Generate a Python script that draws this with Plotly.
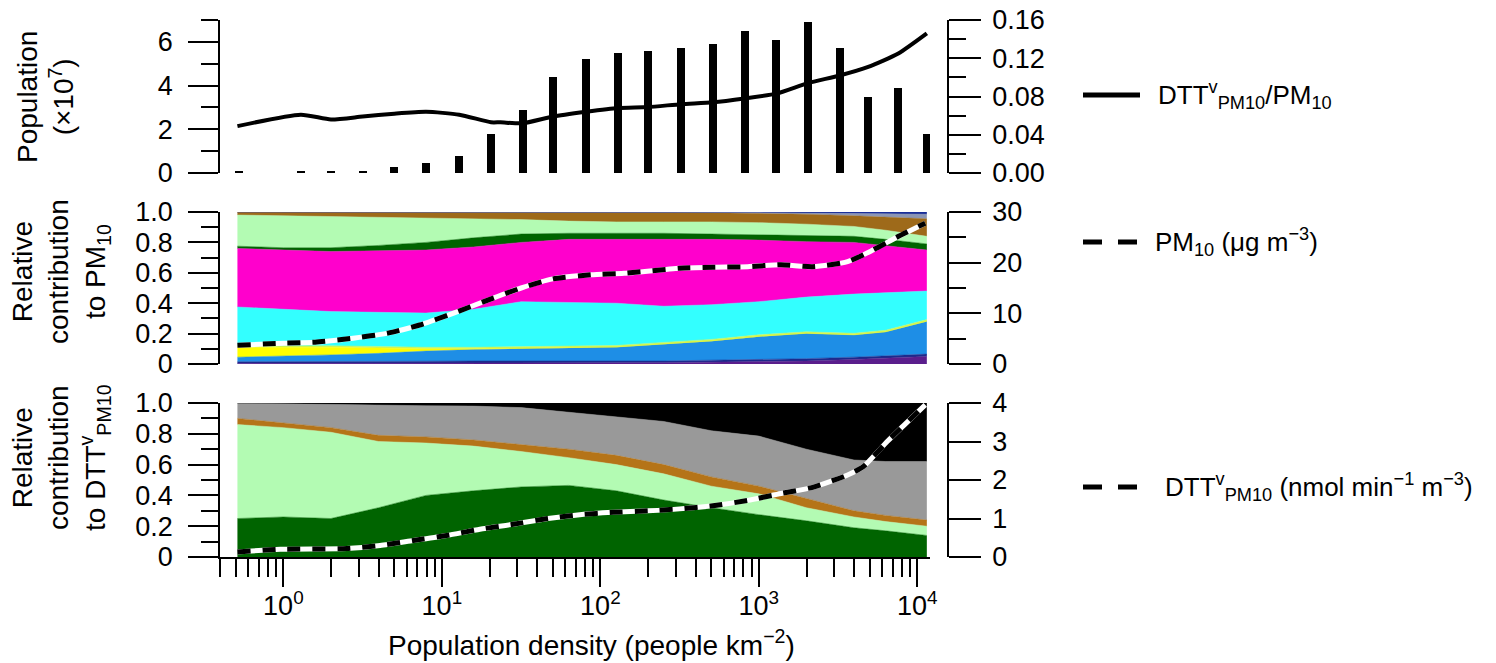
import numpy as np
import plotly.graph_objects as go

W, H = 1496, 663          # browser window
BODY = 8                  # default page margin before the plot div
FW, FH = W - BODY, H - BODY

# ---------------- data ----------------
# Top panel: population per density bin (x 10^7) and DTT/PM10 ratio
bar_logdens = [-0.28, 0.11, 0.30, 0.50, 0.70, 0.90, 1.11, 1.31, 1.51, 1.70, 1.91,
               2.11, 2.30, 2.51, 2.71, 2.91, 3.11, 3.31, 3.51, 3.69, 3.88, 4.06]
population_1e7 = [0.08, 0.08, 0.08, 0.08, 0.27, 0.45, 0.76, 1.8, 2.9, 4.4, 5.2,
                  5.5, 5.6, 5.7, 5.9, 6.5, 6.1, 6.9, 5.7, 3.5, 3.9, 1.8]

ratio_logdens = [-0.29, 0.11, 0.30, 0.50, 0.70, 0.90, 1.11, 1.31, 1.37, 1.51, 1.70, 1.91,
                 2.11, 2.30, 2.51, 2.71, 2.91, 3.11, 3.31, 3.51, 3.69, 3.88, 4.06]
dtt_per_pm10 = [0.049, 0.061, 0.056, 0.059, 0.062, 0.064, 0.061, 0.053, 0.053, 0.052, 0.059, 0.064,
                0.068, 0.069, 0.072, 0.074, 0.078, 0.083, 0.094, 0.102, 0.111, 0.125, 0.146]

# Middle panel: relative contributions to PM10 (stacked, bottom to top) and PM10 concentration
area_logdens = [-0.29, 0.0, 0.3, 0.6, 0.9, 1.2, 1.5, 1.8, 2.1, 2.4, 2.7, 3.0, 3.3, 3.6, 3.8, 4.06]
pm_purple = [0.004, 0.004, 0.004, 0.004, 0.005, 0.006, 0.006, 0.007, 0.008, 0.009, 0.012, 0.015, 0.02, 0.03, 0.04, 0.05]
pm_navy = [0.011, 0.011, 0.011, 0.011, 0.013, 0.014, 0.014, 0.013, 0.012, 0.011, 0.013, 0.015, 0.015, 0.015, 0.015, 0.015]
pm_blue = [0.03, 0.035, 0.045, 0.055, 0.067, 0.075, 0.08, 0.085, 0.09, 0.11, 0.125, 0.15, 0.165, 0.145, 0.155, 0.215]
pm_yellow = [0.065, 0.06, 0.05, 0.035, 0.015, 0.005, 0.003, 0.002, 0.002, 0.002, 0.002, 0.002, 0.002, 0.002, 0.002, 0.002]
pm_yellowgreen = [0.01, 0.01, 0.01, 0.01, 0.01, 0.01, 0.01, 0.01, 0.01, 0.01, 0.01, 0.01, 0.01, 0.01, 0.01, 0.01]
pm_cyan = [0.255, 0.24, 0.225, 0.225, 0.225, 0.25, 0.297, 0.288, 0.278, 0.238, 0.228, 0.218, 0.228, 0.258, 0.248, 0.188]
pm_magenta = [0.385, 0.39, 0.395, 0.405, 0.415, 0.41, 0.39, 0.415, 0.42, 0.44, 0.43, 0.405, 0.365, 0.34, 0.31, 0.27]
pm_darkgreen = [0.015, 0.015, 0.025, 0.035, 0.05, 0.06, 0.055, 0.04, 0.04, 0.04, 0.035, 0.035, 0.04, 0.04, 0.04, 0.04]
pm_palegreen = [0.205, 0.21, 0.207, 0.185, 0.16, 0.125, 0.095, 0.08, 0.075, 0.075, 0.08, 0.08, 0.075, 0.065, 0.06, 0.05]
pm_brown = [0.02, 0.025, 0.028, 0.035, 0.04, 0.045, 0.05, 0.06, 0.065, 0.063, 0.06, 0.06, 0.065, 0.07, 0.085, 0.115]
pm_grey = [0, 0, 0, 0, 0, 0, 0, 0, 0, 0.002, 0.003, 0.006, 0.008, 0.015, 0.02, 0.03]
pm_darkblue = [0, 0, 0, 0, 0, 0, 0, 0, 0, 0, 0.002, 0.004, 0.007, 0.01, 0.015, 0.015]

pm10_logdens = [-0.29, 0.0, 0.20, 0.44, 0.66, 0.86, 1.07, 1.29, 1.50, 1.70, 1.94, 2.15,
                2.50, 2.71, 2.93, 3.14, 3.34, 3.56, 3.72, 3.87, 4.05]
pm10_conc = [3.7, 4.1, 4.3, 5.1, 6.1, 7.7, 10.0, 12.6, 15.0, 16.8, 17.6, 17.9,
             18.9, 19.1, 19.2, 19.6, 19.2, 20.2, 22.5, 25.0, 27.8]

# Bottom panel: relative contributions to DTT (stacked) and DTT activity
dtt_darkgreen = [0.25, 0.26, 0.25, 0.32, 0.40, 0.43, 0.455, 0.465, 0.43, 0.37, 0.32, 0.275, 0.235, 0.19, 0.17, 0.14]
dtt_palegreen = [0.61, 0.58, 0.56, 0.43, 0.34, 0.29, 0.23, 0.18, 0.17, 0.17, 0.14, 0.135, 0.085, 0.07, 0.06, 0.06]
dtt_brown = [0.04, 0.03, 0.03, 0.04, 0.04, 0.04, 0.045, 0.055, 0.06, 0.06, 0.06, 0.05, 0.06, 0.04, 0.04, 0.04]
dtt_grey = [0.10, 0.125, 0.15, 0.195, 0.202, 0.22, 0.24, 0.24, 0.25, 0.28, 0.30, 0.325, 0.32, 0.33, 0.35, 0.38]
dtt_black = [0.0, 0.005, 0.01, 0.015, 0.018, 0.02, 0.03, 0.06, 0.09, 0.12, 0.18, 0.215, 0.30, 0.37, 0.38, 0.38]

dtt_logdens = [-0.29, -0.02, 0.40, 0.61, 0.82, 1.03, 1.24, 1.45, 1.67, 1.87, 2.08, 2.30,
               2.50, 2.71, 2.93, 3.14, 3.34, 3.56, 3.66, 3.81, 3.91, 4.05]
dtt_activity = [0.13, 0.2, 0.22, 0.3, 0.43, 0.56, 0.72, 0.85, 1.0, 1.1, 1.16, 1.2,
                1.25, 1.33, 1.47, 1.65, 1.81, 2.13, 2.35, 3.0, 3.4, 3.95]

x_decades = [0, 1, 2, 3, 4]
x_ticktext = ["10<sup>0</sup>", "10<sup>1</sup>", "10<sup>2</sup>", "10<sup>3</sup>", "10<sup>4</sup>"]

# ---------------- layout helpers ----------------
def px(x):
    return (x - BODY) / FW

def py(y):
    return 1 - (y - BODY) / FH

FONT = "Liberation Sans, Arial, Helvetica, sans-serif"
FS = 27
XDOM = [px(220), px(930)]
YDOM_TOP = [py(173), py(20)]
YDOM_MID = [py(364), py(212)]
YDOM_BOT = [py(557), py(403)]
RIGHT_POS = px(948)
XRANGE = [-0.4, 4.08]

fig = go.Figure()

# ---- middle panel stacked areas
mid_layers = [
    (pm_purple, "#5a1e8c"), (pm_navy, "#1c2a8c"), (pm_blue, "#1e8ee6"),
    (pm_yellow, "#ffff00"), (pm_yellowgreen, "#c8f55a"), (pm_cyan, "#33ffff"),
    (pm_magenta, "#ff00cc"), (pm_darkgreen, "#006400"), (pm_palegreen, "#b3fbb3"),
    (pm_brown, "#9e6a1a"), (pm_grey, "#8c96b4"), (pm_darkblue, "#1a2f99"),
]
for vals, col in mid_layers:
    fig.add_trace(go.Scatter(x=area_logdens, y=vals, stackgroup="mid", mode="lines",
                             line=dict(width=0.5, color=col), fillcolor=col,
                             xaxis="x2", yaxis="y3", hoverinfo="skip"))

# ---- bottom panel stacked areas
bot_layers = [
    (dtt_darkgreen, "#006400"), (dtt_palegreen, "#b3fbb3"), (dtt_brown, "#b57418"),
    (dtt_grey, "#999999"), (dtt_black, "#000000"),
]
for vals, col in bot_layers:
    fig.add_trace(go.Scatter(x=area_logdens, y=vals, stackgroup="bot", mode="lines",
                             line=dict(width=0.5, color=col), fillcolor=col,
                             xaxis="x", yaxis="y", hoverinfo="skip"))

# ---- dashed lines (white underlay + black dashes)
for xs, ys, xa, ya in [(pm10_logdens, pm10_conc, "x2", "y4"),
                       (dtt_logdens, dtt_activity, "x", "y2")]:
    fig.add_trace(go.Scatter(x=xs, y=ys, mode="lines", xaxis=xa, yaxis=ya,
                             line=dict(color="white", width=5, shape="spline", smoothing=0.6),
                             hoverinfo="skip"))
    fig.add_trace(go.Scatter(x=xs, y=ys, mode="lines", xaxis=xa, yaxis=ya,
                             line=dict(color="black", width=5, dash="13px,12px",
                                       shape="spline", smoothing=0.6),
                             hoverinfo="skip"))

# ---- top panel bars + ratio line
fig.add_trace(go.Bar(x=bar_logdens, y=population_1e7, width=0.05,
                     marker=dict(color="black", line=dict(width=0)),
                     xaxis="x3", yaxis="y5", hoverinfo="skip"))
fig.add_trace(go.Scatter(x=ratio_logdens, y=dtt_per_pm10, mode="lines",
                         line=dict(color="black", width=4, shape="spline", smoothing=0.6),
                         xaxis="x3", yaxis="y6", hoverinfo="skip"))

# ---------------- axes ----------------
def left_axis(domain, rng, major, labels, minor, anchor):
    return dict(domain=domain, range=rng, anchor=anchor, side="left", automargin=False,
                showline=True, linecolor="black", linewidth=1.5, showgrid=False, zeroline=False,
                ticks="outside", ticklen=30, tickwidth=1.5, tickcolor="black",
                tickmode="array", tickvals=major, ticktext=labels, ticklabelstandoff=10,
                ticklabeloverflow="allow",
                minor=dict(tickvals=minor, ticks="outside", ticklen=17, tickwidth=1.5,
                           tickcolor="black", showgrid=False),
                tickfont=dict(size=FS, family=FONT, color="black"), fixedrange=True)

def right_axis(rng, major, labels, minor, overlaying):
    d = dict(range=rng, overlaying=overlaying, anchor="free", position=RIGHT_POS, side="right",
             automargin=False, ticklabeloverflow="allow",
             showline=True, linecolor="black", linewidth=1.5, showgrid=False, zeroline=False,
             ticks="outside", ticklen=32, tickwidth=1.5, tickcolor="black",
             tickmode="array", tickvals=major, ticktext=labels, ticklabelstandoff=6,
             tickfont=dict(size=FS, family=FONT, color="black"), fixedrange=True)
    if minor:
        d["minor"] = dict(tickvals=minor, ticks="outside", ticklen=17, tickwidth=1.5,
                          tickcolor="black", showgrid=False)
    return d

minor_x = []
for dec in range(-1, 4):
    for k in range(2, 10):
        v = np.log10(k) + dec
        if XRANGE[0] - 1e-9 <= v <= XRANGE[1]:
            minor_x.append(v)

fig.update_layout(
    width=FW, height=FH, margin=dict(l=0, r=0, t=0, b=0, autoexpand=False),
    plot_bgcolor="white", paper_bgcolor="white", showlegend=False,
    font=dict(family=FONT, size=FS, color="black"),
    bargap=0,
    xaxis=dict(domain=XDOM, range=XRANGE, anchor="y", automargin=False, showline=True,
               linecolor="black", linewidth=1.5, showgrid=False, zeroline=False,
               ticks="outside", ticklen=28, tickwidth=1.5, tickcolor="black",
               tickmode="array", tickvals=x_decades, ticktext=x_ticktext, ticklabelstandoff=-4,
               ticklabeloverflow="allow",
               minor=dict(tickvals=minor_x, ticks="outside", ticklen=18, tickwidth=1.5,
                          tickcolor="black", showgrid=False),
               tickfont=dict(size=FS, family=FONT, color="black"), fixedrange=True),
    xaxis2=dict(domain=XDOM, range=XRANGE, anchor="y3", matches="x", visible=False, automargin=False),
    xaxis3=dict(domain=XDOM, range=XRANGE, anchor="y5", matches="x", visible=False, automargin=False),
    yaxis=left_axis(YDOM_BOT, [0, 1], [0, 0.2, 0.4, 0.6, 0.8, 1.0],
                    ["0", "0.2", "0.4", "0.6", "0.8", "1.0"],
                    [0.1, 0.3, 0.5, 0.7, 0.9], "x"),
    yaxis2=right_axis([0, 4], [0, 1, 2, 3, 4], ["0", "1", "2", "3", "4"], None, "y"),
    yaxis3=left_axis(YDOM_MID, [0, 1], [0, 0.2, 0.4, 0.6, 0.8, 1.0],
                     ["0", "0.2", "0.4", "0.6", "0.8", "1.0"],
                     [0.1, 0.3, 0.5, 0.7, 0.9], "x2"),
    yaxis4=right_axis([0, 30], [0, 10, 20, 30], ["0", "10", "20", "30"], [5, 15, 25], "y3"),
    yaxis5=left_axis(YDOM_TOP, [0, 7], [0, 2, 4, 6], ["0", "2", "4", "6"], [1, 3, 5, 7], "x3"),
    yaxis6=right_axis([0, 0.16], [0, 0.04, 0.08, 0.12, 0.16],
                      ["0.00", "0.04", "0.08", "0.12", "0.16"],
                      [0.02, 0.06, 0.10, 0.14], "y5"),
)

# ---------------- titles (annotations) ----------------
TFS = 28
LFS = 26
ann = []
ann.append(dict(text="Population<br>(×10<sup>7</sup>)", x=px(46), y=py(97), textangle=-90, size=TFS))
ann.append(dict(text="Relative<br>contribution<br>to PM<sub>10</sub>", x=px(61), y=py(272),
                textangle=-90, size=TFS))
ann.append(dict(text="Relative<br>contribution<br>to DTT<sup>v</sup><sub>PM10</sub>", x=px(61), y=py(458),
                textangle=-90, size=TFS))
ann.append(dict(text="Population density (people km<sup>−2</sup>)", x=px(591), y=py(643),
                textangle=0, size=TFS))

# legend-like keys on the right
ann.append(dict(text="DTT<sup>v</sup><sub>PM10</sub>/PM<sub>10</sub>", x=px(1156), y=py(95),
                textangle=0, xanchor="left", size=LFS))
ann.append(dict(text="PM<sub>10</sub> (μg m<sup>−3</sup>)", x=px(1153), y=py(242),
                textangle=0, xanchor="left", size=LFS))
ann.append(dict(text="DTT<sup>v</sup><sub>PM10</sub> (nmol min<sup>−1</sup> m<sup>−3</sup>)",
                x=px(1163), y=py(487), textangle=0, xanchor="left", size=LFS))

for a in ann:
    a.setdefault("xanchor", "center")
    sz = a.pop("size")
    a.update(xref="paper", yref="paper", yanchor="middle", showarrow=False,
             font=dict(family=FONT, size=sz, color="black"))
fig.update_layout(annotations=ann)

shapes = [
    dict(type="line", xref="paper", yref="paper", x0=px(1083), x1=px(1140), y0=py(95), y1=py(95),
         line=dict(color="black", width=5)),
    dict(type="line", xref="paper", yref="paper", x0=px(1083), x1=px(1140), y0=py(242), y1=py(242),
         line=dict(color="black", width=5, dash="19px,16px")),
    dict(type="line", xref="paper", yref="paper", x0=px(1083), x1=px(1140), y0=py(487), y1=py(487),
         line=dict(color="black", width=5, dash="19px,16px")),
]
fig.update_layout(shapes=shapes)

fig.write_html("out.html")
